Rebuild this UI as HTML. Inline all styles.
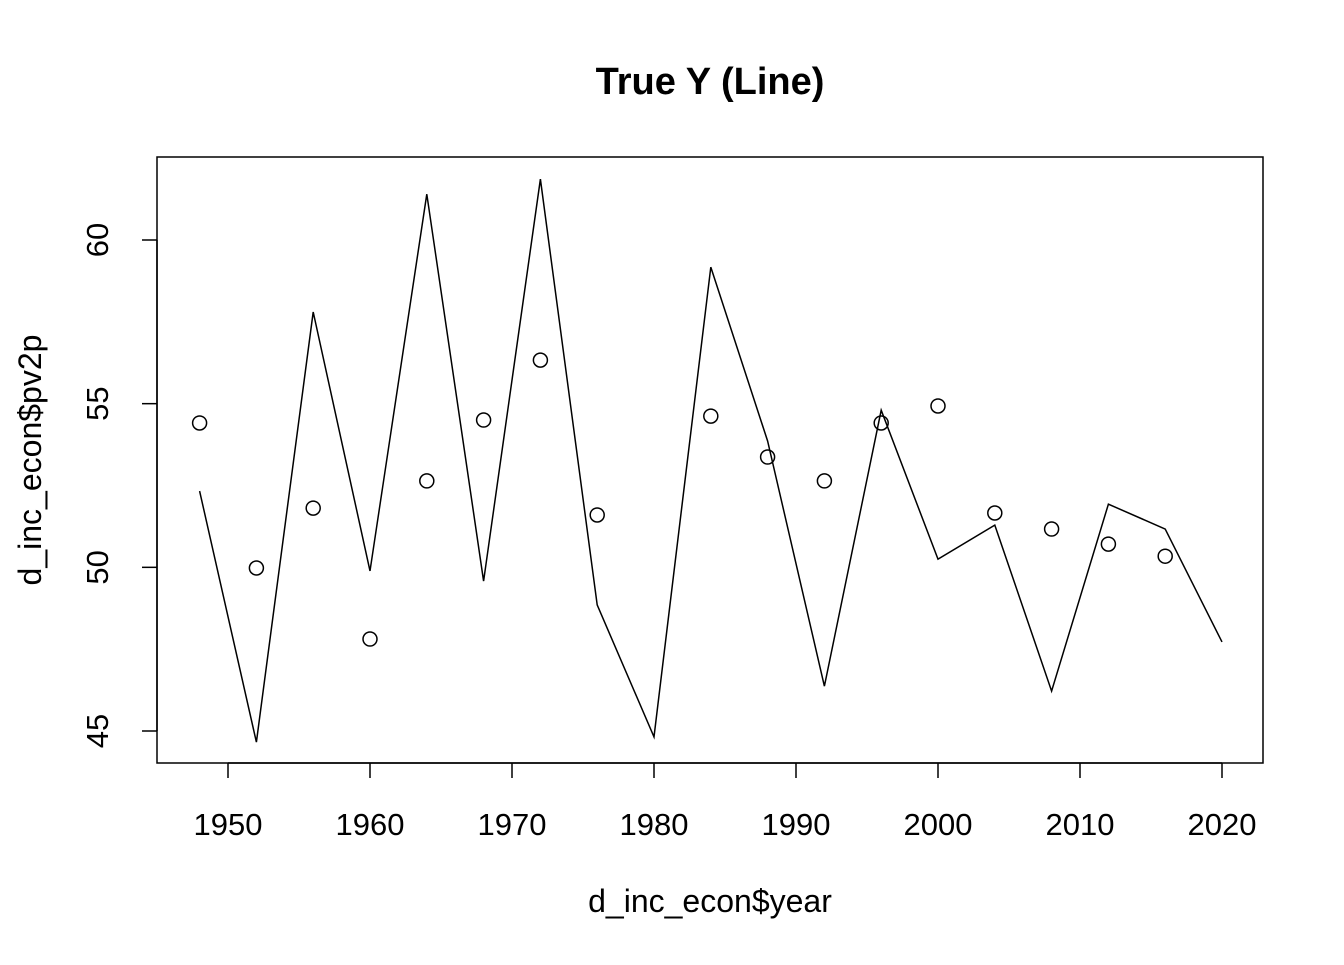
<!DOCTYPE html>
<html><head><meta charset="utf-8"><style>
body{margin:0;background:#fff;}
svg text{font-family:"Liberation Sans",Arial,sans-serif;fill:#000;}
</style></head><body>
<svg id="chart" width="1344" height="960" viewBox="0 0 1344 960" xmlns="http://www.w3.org/2000/svg">
<text x="710" y="94" text-anchor="middle" font-size="38" font-weight="bold">True Y (Line)</text>
<rect x="157" y="157" width="1106" height="606" fill="none" stroke="#000" stroke-width="1.5"/>
<g id="xaxis"></g>
<g id="yaxis"></g>
<g id="series"></g>
<text x="710" y="912" text-anchor="middle" font-size="32">d_inc_econ$year</text>
<text transform="translate(41,460) rotate(-90)" text-anchor="middle" font-size="32">d_inc_econ$pv2p</text>
</svg>
<script>
const lineYears=[1948,1952,1956,1960,1964,1968,1972,1976,1980,1984,1988,1992,1996,2000,2004,2008,2012,2016,2020];
const lineValues=[52.33,44.66,57.8,49.89,61.4,49.58,61.86,48.85,44.82,59.17,53.86,46.37,54.8,50.25,51.29,46.22,51.93,51.17,47.72];
const pointYears=[1948,1952,1956,1960,1964,1968,1972,1976,1984,1988,1992,1996,2000,2004,2008,2012,2016];
const pointValues=[54.41,49.98,51.81,47.81,52.64,54.5,56.33,51.6,54.62,53.37,52.64,54.41,54.93,51.66,51.17,50.71,50.34];
const xTicks=[1950,1960,1970,1980,1990,2000,2010,2020];
const yTicks=[45,50,55,60];
const NS="http://www.w3.org/2000/svg";
function xs(v){return 228+(v-1950)*(1222-228)/70;}
function ys(v){return 731-(v-45)*(731-240)/15;}
function mk(tag,attrs,parent){const e=document.createElementNS(NS,tag);for(const k in attrs)e.setAttribute(k,attrs[k]);parent.appendChild(e);return e;}
const xa=document.getElementById('xaxis'),ya=document.getElementById('yaxis'),se=document.getElementById('series');
mk('line',{x1:xs(xTicks[0]),x2:xs(xTicks[xTicks.length-1]),y1:763,y2:763,stroke:'#000','stroke-width':1.5},xa);
xTicks.forEach(t=>{
 const l=mk('line',{x1:xs(t),x2:xs(t),y1:763,y2:778,stroke:'#000','stroke-width':1.5},xa);
 
 
 const tx=mk('text',{x:xs(t),y:835,'text-anchor':'middle','font-size':31},xa);tx.textContent=t;
 
 
});
mk('line',{x1:157,x2:157,y1:ys(yTicks[0]),y2:ys(yTicks[yTicks.length-1]),stroke:'#000','stroke-width':1.5},ya);
yTicks.forEach(t=>{
 const l=mk('line',{x1:142,x2:157,y1:ys(t),y2:ys(t),stroke:'#000','stroke-width':1.5},ya);
 
 
 const tx=mk('text',{transform:`translate(${108},${ys(t)}) rotate(-90)`,'text-anchor':'middle','font-size':31},ya);tx.textContent=t;
 
 
});
const pts=lineYears.map((y,i)=>xs(y)+','+ys(lineValues[i])).join(' ');
const pl=mk('polyline',{points:pts,fill:'none',stroke:'#000','stroke-width':1.5},se);


pointYears.forEach((y,i)=>{
 const c=mk('circle',{cx:xs(y),cy:ys(pointValues[i]),r:7,fill:'none',stroke:'#000','stroke-width':1.5},se);
 
 
});
</script>
</body></html>
